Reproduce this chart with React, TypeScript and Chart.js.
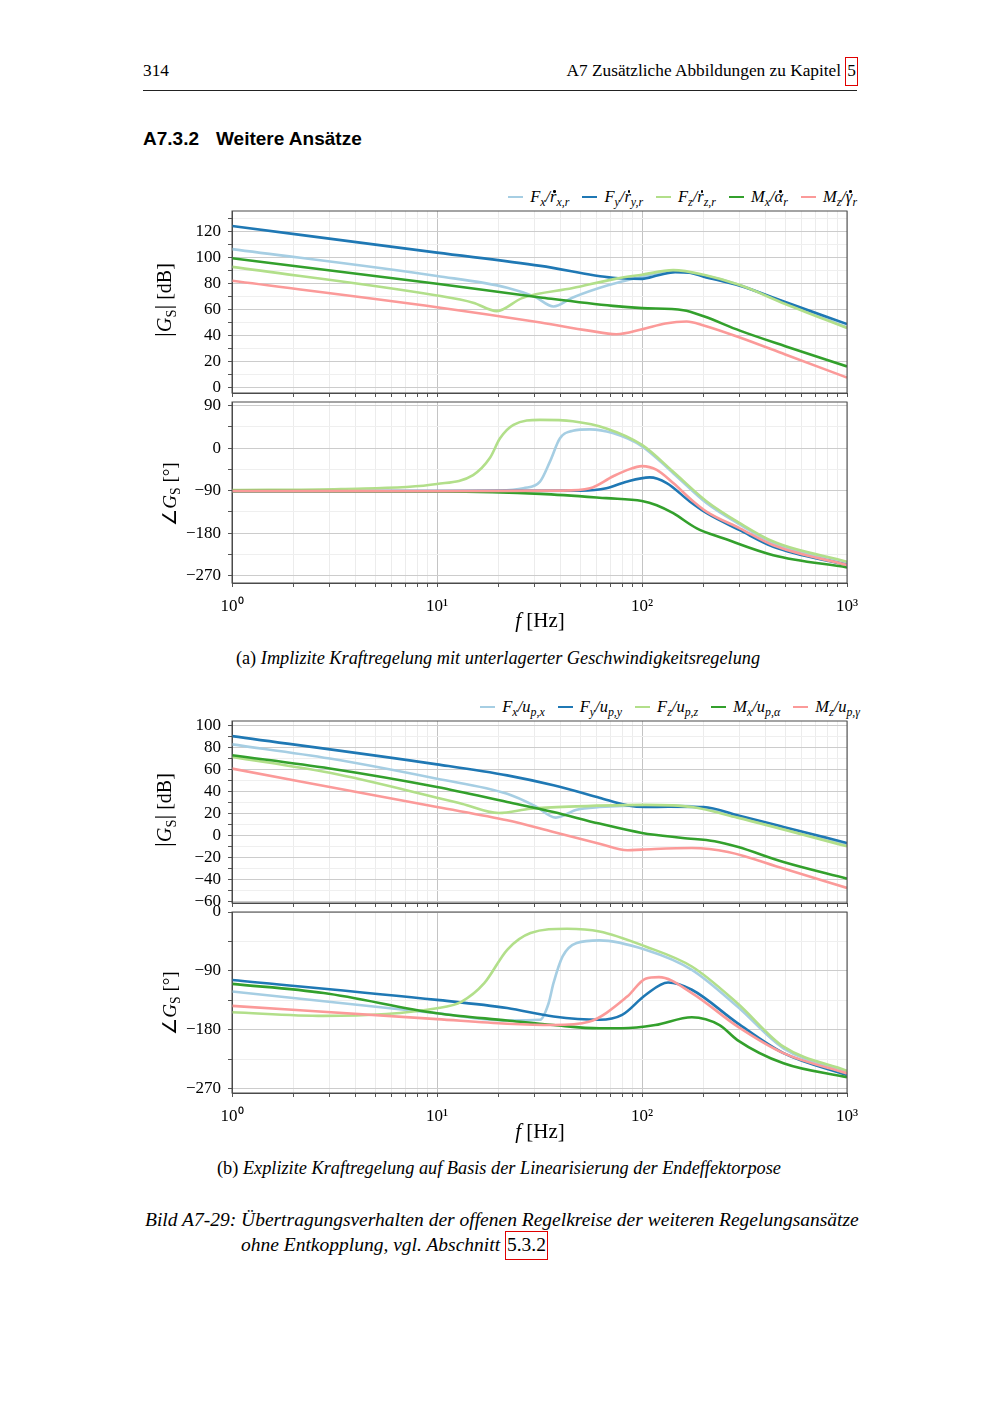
import React, { useEffect, useRef } from "react";
import { Chart, registerables } from "chart.js";

Chart.register(...registerables);

const FONT = "'Liberation Serif', 'Times New Roman', Times, serif";
const SANS = "'Liberation Sans', Arial, Helvetica, sans-serif";

const C_FX = "#a6cee3";
const C_FY = "#1f78b4";
const C_FZ = "#b2df8a";
const C_MX = "#33a02c";
const C_MZ = "#fb9a99";

// ---------- Figure (a): magnitude [dB] ----------
const A_MAG_FX_F = [1, 10, 22, 30, 37, 46, 67, 100, 142, 200, 300, 500, 1000];
const A_MAG_FX = [106.7, 86, 77, 70, 62.5, 69.5, 78.5, 85.5, 90, 86.5, 79, 65, 46.5];
const A_MAG_FY_F = [1, 10, 32, 72, 100, 120, 145, 170, 200, 300, 500, 1000];
const A_MAG_FY = [124.5, 104, 93.8, 84.6, 83.8, 86.5, 89, 88.5, 85.5, 78.5, 66, 49];
const A_MAG_FZ_F = [1, 10, 15, 19.6, 26, 46, 75, 100, 142, 200, 300, 500, 1000];
const A_MAG_FZ = [93, 71, 65.5, 59, 69, 76.7, 84, 87, 90.5, 87, 79, 64.5, 46];
const A_MAG_MX_F = [1, 10, 32, 72, 100, 159, 200, 300, 500, 1000];
const A_MAG_MX = [99.7, 80, 69.5, 63, 61.3, 59.7, 55, 44, 32, 16.4];
const A_MAG_MZ_F = [1, 10, 32, 55, 75, 100, 130, 165, 200, 300, 500, 1000];
const A_MAG_MZ = [82.3, 62, 50.2, 44, 41.2, 45, 49.5, 51, 48, 38.7, 25.6, 7.9];

// ---------- Figure (a): phase [deg] ----------
const A_PH_FX_F = [1, 10, 20, 26.4, 31.8, 35.6, 39.8, 46, 55.7, 72, 100, 142, 207, 300, 437, 1000];
const A_PH_FX = [-91, -91, -90, -85, -71, -28, 21, 37, 40, 32, 4, -53, -117, -162, -201, -244];
const A_PH_FY_F = [1, 10, 50, 67, 84, 109, 132, 171, 207, 300, 437, 1000];
const A_PH_FY = [-91, -91, -90, -85, -71, -62, -74, -113, -138, -174, -209, -248];
const A_PH_FZ_F = [1, 3.4, 10, 15, 18.1, 20.3, 23.6, 31.8, 46, 67, 100, 142, 207, 300, 437, 1000];
const A_PH_FZ = [-89, -86.5, -76, -57, -21, 21, 49.5, 60, 57, 42, 7, -50, -113, -159, -198, -241];
const A_PH_MX_F = [1, 10, 32, 67, 100, 118, 142, 185, 249, 437, 1000];
const A_PH_MX = [-91, -92, -97, -106, -112, -121, -138, -170, -191, -227, -253];
const A_PH_MZ_F = [1, 10, 40, 55.7, 72, 85, 100, 118, 142, 178, 207, 300, 437, 1000];
const A_PH_MZ = [-91, -91, -90, -85, -60, -46, -38, -46, -74, -113, -135, -170, -206, -248];

// ---------- Figure (b): magnitude [dB] ----------
const B_MAG_FX_F = [1, 3, 10, 22, 30, 38, 48, 62, 104, 175, 292, 1000];
const B_MAG_FX = [82.8, 70, 51.7, 38, 27, 16.4, 23.6, 26, 27.5, 26.6, 17, -8.7];
const B_MAG_FY_F = [1, 10, 22, 37, 62, 85, 104, 135, 200, 292, 490, 1000];
const B_MAG_FY = [90.3, 64.7, 54.7, 45.7, 34.5, 27.5, 26, 26.3, 26, 18.5, 8, -6.6];
const B_MAG_FZ_F = [1, 3, 10, 13.2, 20, 28.6, 48, 104, 175, 292, 1000];
const B_MAG_FZ = [71.5, 57, 34.5, 29, 20.6, 24.5, 26.6, 28, 26, 16.4, -9.6];
const B_MAG_MX_F = [1, 3, 10, 22, 37, 62, 100, 158, 226, 292, 490, 1000];
const B_MAG_MX = [73, 61, 44.2, 30.6, 21.5, 11, 2.5, -2, -5, -10, -23.8, -38.9];
const B_MAG_MZ_F = [1, 10, 22, 37, 62, 85, 100, 175, 263, 490, 1000];
const B_MAG_MZ = [60.8, 26, 14, 3.4, -7.2, -13.2, -12.6, -11.1, -14.7, -29.8, -47.3];

// ---------- Figure (b): phase [deg] ----------
const B_PH_FX_F = [1, 10, 22, 31.8, 35, 37, 41, 48, 62, 104, 175, 292, 490, 1000];
const B_PH_FX = [-121.7, -155, -166, -165, -140, -109, -68, -47.5, -43.5, -57.8, -88.5, -144.7, -208.6, -244.4];
const B_PH_FY_F = [1, 10, 22, 37, 62, 80, 104, 134, 175, 292, 490, 1000];
const B_PH_FY = [-104, -134.5, -147, -160, -165, -157.5, -127, -108, -119, -170, -216, -249.5];
const B_PH_FZ_F = [1, 2.8, 10, 13.2, 17, 22, 28.6, 43, 62, 104, 175, 292, 490, 1000];
const B_PH_FZ = [-153.4, -159, -147.3, -137, -109, -57.8, -32.2, -25.6, -29.7, -52.7, -83.4, -139.6, -206, -243];
const B_PH_MX_F = [1, 2.8, 10, 22, 37, 62, 80, 116, 175, 239, 292, 490, 1000];
const B_PH_MX = [-110, -124, -155, -166, -173, -178, -178, -173, -161, -173, -196, -231.6, -253];
const B_PH_MZ_F = [1, 10, 22, 37, 55, 85, 104, 121, 175, 292, 490, 1000];
const B_PH_MZ = [-143.7, -164, -171, -173, -168, -129, -102, -99.7, -124, -175, -216, -247];

// ---------- Ticks ----------
const LOG_TICKS = [1, 2, 3, 4, 5, 6, 7, 8, 9, 10, 20, 30, 40, 50, 60, 70, 80, 90, 100, 200, 300, 400, 500, 600, 700, 800, 900, 1000];
const LOG_LABELS: Record<number, string> = { 1: "10\u2070", 10: "10\u00b9", 100: "10\u00b2", 1000: "10\u00b3" };
const A_MAG_TICKS = [0, 10, 20, 30, 40, 50, 60, 70, 80, 90, 100, 110, 120, 130];
const A_PH_TICKS = [-270, -225, -180, -135, -90, -45, 0, 45, 90];
const B_MAG_TICKS = [-60, -50, -40, -30, -20, -10, 0, 10, 20, 30, 40, 50, 60, 70, 80, 90, 100];
const B_PH_TICKS = [-270, -225, -180, -135, -90, -45, 0];

type LegendItem = { c: string; n: string; ns: string; d: string; dot: boolean; ds: string };
const LEGEND_A: LegendItem[] = [
  { c: C_FX, n: "F", ns: "x", d: "r", dot: true, ds: "x,r" },
  { c: C_FY, n: "F", ns: "y", d: "r", dot: true, ds: "y,r" },
  { c: C_FZ, n: "F", ns: "z", d: "r", dot: true, ds: "z,r" },
  { c: C_MX, n: "M", ns: "x", d: "\u03b1", dot: true, ds: "r" },
  { c: C_MZ, n: "M", ns: "z", d: "\u03b3", dot: true, ds: "r" },
];
const LEGEND_B: LegendItem[] = [
  { c: C_FX, n: "F", ns: "x", d: "u", dot: false, ds: "p,x" },
  { c: C_FY, n: "F", ns: "y", d: "u", dot: false, ds: "p,y" },
  { c: C_FZ, n: "F", ns: "z", d: "u", dot: false, ds: "p,z" },
  { c: C_MX, n: "M", ns: "x", d: "u", dot: false, ds: "p,\u03b1" },
  { c: C_MZ, n: "M", ns: "z", d: "u", dot: false, ds: "p,\u03b3" },
];

type Series = { f: number[]; v: number[]; color: string };

const mk = (f: number[], v: number[], color: string): Series => ({ f, v, color });

const SER_A_MAG = [
  mk(A_MAG_FX_F, A_MAG_FX, C_FX), mk(A_MAG_FY_F, A_MAG_FY, C_FY), mk(A_MAG_FZ_F, A_MAG_FZ, C_FZ),
  mk(A_MAG_MX_F, A_MAG_MX, C_MX), mk(A_MAG_MZ_F, A_MAG_MZ, C_MZ),
];
const SER_A_PH = [
  mk(A_PH_FX_F, A_PH_FX, C_FX), mk(A_PH_FY_F, A_PH_FY, C_FY), mk(A_PH_FZ_F, A_PH_FZ, C_FZ),
  mk(A_PH_MX_F, A_PH_MX, C_MX), mk(A_PH_MZ_F, A_PH_MZ, C_MZ),
];
const SER_B_MAG = [
  mk(B_MAG_FX_F, B_MAG_FX, C_FX), mk(B_MAG_FY_F, B_MAG_FY, C_FY), mk(B_MAG_FZ_F, B_MAG_FZ, C_FZ),
  mk(B_MAG_MX_F, B_MAG_MX, C_MX), mk(B_MAG_MZ_F, B_MAG_MZ, C_MZ),
];
const SER_B_PH = [
  mk(B_PH_FX_F, B_PH_FX, C_FX), mk(B_PH_FY_F, B_PH_FY, C_FY), mk(B_PH_FZ_F, B_PH_FZ, C_FZ),
  mk(B_PH_MX_F, B_PH_MX, C_MX), mk(B_PH_MZ_F, B_PH_MZ, C_MZ),
];

const framePlugin = {
  id: "frame",
  afterDraw(chart: any) {
    const { ctx, chartArea: a } = chart;
    ctx.save();
    ctx.strokeStyle = "#4a4a4a";
    ctx.lineWidth = 1;
    ctx.strokeRect(a.left, a.top, a.right - a.left, a.bottom - a.top);
    ctx.restore();
  },
};

const fmtNum = (v: number) => (v < 0 ? "\u2212" + Math.abs(v) : String(v));

type PlotProps = {
  left: number; top: number; width: number; height: number;
  series: Series[]; yMin: number; yMax: number; yTicks: number[]; labelStep: number; showX: boolean;
};

function Plot(p: PlotProps) {
  const ref = useRef<HTMLCanvasElement>(null);
  const yAxisW = 80;
  const padTop = 12;
  const padRight = 20;
  const xAxisH = p.showX ? 40 : 14;
  const cw = yAxisW + p.width + padRight;
  const ch = padTop + p.height + xAxisH;

  useEffect(() => {
    if (!ref.current) return;
    const datasets = [...p.series].reverse().map((s) => ({
      data: s.f.map((f, i) => ({ x: f, y: s.v[i] })),
      borderColor: s.color,
      backgroundColor: s.color,
      borderWidth: 2.6,
      pointRadius: 0,
      fill: false,
      cubicInterpolationMode: "monotone" as const,
    }));
    const chart = new Chart(ref.current, {
      type: "line",
      data: { datasets },
      options: {
        animation: false,
        responsive: false,
        maintainAspectRatio: false,
        layout: { padding: { top: padTop, right: padRight, left: 0, bottom: 0 } },
        plugins: { legend: { display: false }, tooltip: { enabled: false } },
        scales: {
          x: {
            type: "logarithmic",
            min: 1,
            max: 1000,
            afterBuildTicks: (s: any) => {
              s.ticks = LOG_TICKS.map((v) => ({ value: v, major: v in LOG_LABELS }));
            },
            afterFit: (s: any) => {
              s.height = xAxisH;
              s.paddingLeft = 0;
              s.paddingRight = 0;
              s.paddingTop = 0;
              s.paddingBottom = 0;
            },
            ticks: {
              display: p.showX,
              autoSkip: false,
              maxRotation: 0,
              minRotation: 0,
              padding: 9,
              color: "#000",
              font: { family: FONT, size: 17 },
              callback: (v: any) => LOG_LABELS[Number(v)] ?? "",
            },
            grid: {
              color: (ctx: any) => (ctx.tick && ctx.tick.value in LOG_LABELS ? "#c4c4c4" : "#ececec"),
              tickColor: "#555",
              tickLength: 4,
              lineWidth: 1,
            },
            border: { color: "#4a4a4a", width: 1 },
          },
          y: {
            type: "linear",
            min: p.yMin,
            max: p.yMax,
            afterBuildTicks: (s: any) => {
              s.ticks = p.yTicks.map((v) => ({ value: v }));
            },
            afterFit: (s: any) => {
              s.width = yAxisW;
              s.paddingTop = 0;
              s.paddingBottom = 0;
              s.paddingLeft = 0;
              s.paddingRight = 0;
            },
            ticks: {
              autoSkip: false,
              padding: 7,
              color: "#000",
              font: { family: FONT, size: 17 },
              callback: (v: any) => (Number(v) % p.labelStep === 0 ? fmtNum(Number(v)) : ""),
            },
            grid: {
              color: (ctx: any) => (ctx.tick && ctx.tick.value % p.labelStep === 0 ? "#cccccc" : "#efefef"),
              tickColor: "#555",
              tickLength: 4,
              lineWidth: 1,
            },
            border: { color: "#4a4a4a", width: 1 },
          },
        },
      },
      plugins: [framePlugin],
    } as any);
    return () => chart.destroy();
  }, []);

  return (
    <canvas
      ref={ref}
      width={cw}
      height={ch}
      style={{ position: "absolute", left: p.left - yAxisW, top: p.top - padTop, width: cw, height: ch }}
    />
  );
}

const subStyle: React.CSSProperties = { fontSize: "0.72em", position: "relative", top: "0.32em", lineHeight: 0 };

function Dotted({ ch }: { ch: string }) {
  return (
    <span style={{ position: "relative", display: "inline-block" }}>
      {ch}
      <span
        style={{
          position: "absolute", left: "52%", top: "0.18em", width: 2.6, height: 2.6,
          borderRadius: "50%", background: "#000",
        }}
      />
    </span>
  );
}

function Legend({ cy, right, items }: { cy: number; right: number; items: LegendItem[] }) {
  return (
    <div
      style={{
        position: "absolute", top: cy - 11, right, height: 22, display: "flex", alignItems: "center",
        gap: 13, fontFamily: FONT, fontSize: 16.5, fontStyle: "italic", whiteSpace: "nowrap",
      }}
    >
      {items.map((it, i) => (
        <span key={i} style={{ display: "flex", alignItems: "center" }}>
          <span style={{ display: "inline-block", width: 15, height: 2.6, background: it.c, marginRight: 7 }} />
          <span>
            {it.n}<span style={subStyle}>{it.ns}</span>/{it.dot ? <Dotted ch={it.d} /> : it.d}
            <span style={subStyle}>{it.ds}</span>
          </span>
        </span>
      ))}
    </div>
  );
}

function YTitle({ cx, cy, kind }: { cx: number; cy: number; kind: "mag" | "ph" }) {
  return (
    <div
      style={{
        position: "absolute", left: cx, top: cy, transform: "translate(-50%, -50%) rotate(-90deg)",
        fontFamily: FONT, fontSize: kind === "mag" ? 20 : 19, whiteSpace: "nowrap", lineHeight: "24px",
      }}
    >
      {kind === "mag" ? (
        <span>
          <span style={{ fontSize: "1.2em" }}>|</span><i>G</i><span style={subStyle}>S</span>
          <span style={{ fontSize: "1.2em" }}>|</span> [dB]
        </span>
      ) : (
        <span>
          {"\u2220"}<i>G</i><span style={subStyle}>S</span> [°]
        </span>
      )}
    </div>
  );
}

function XTitle({ cx, cy }: { cx: number; cy: number }) {
  return (
    <div
      style={{
        position: "absolute", left: cx, top: cy, transform: "translate(-50%, -50%)",
        fontFamily: FONT, fontSize: 21, whiteSpace: "nowrap", lineHeight: "24px",
      }}
    >
      <i>f</i> [Hz]
    </div>
  );
}

export default function App() {
  const L = 232;
  const W = 615;
  return (
    <div
      style={{
        position: "absolute", left: 0, top: 0, width: 1000, height: 1414, background: "#fff",
        fontFamily: FONT, color: "#000", overflow: "hidden",
      }}
    >
      {/* page header */}
      <div style={{ position: "absolute", left: 143, top: 61, fontSize: 17.3, lineHeight: "20px" }}>314</div>
      <div style={{ position: "absolute", right: 142, top: 61, fontSize: 17.3, lineHeight: "20px", whiteSpace: "nowrap" }}>
        A7 Zusätzliche Abbildungen zu Kapitel{" "}
        <span style={{ border: "1.5px solid #e00000", padding: "3px 1px 5px 1px" }}>5</span>
      </div>
      <div style={{ position: "absolute", left: 143, top: 90, width: 714, height: 1, background: "#222" }} />

      {/* section heading */}
      <div style={{ position: "absolute", left: 143, top: 128, fontFamily: SANS, fontWeight: "bold", fontSize: 19, lineHeight: "22px", whiteSpace: "nowrap" }}>
        A7.3.2<span style={{ display: "inline-block", width: 17 }} />Weitere Ansätze
      </div>

      {/* Figure (a) */}
      <Legend cy={197} right={143} items={LEGEND_A} />
      <Plot left={L} top={211} width={W} height={182} series={SER_A_MAG} yMin={-4} yMax={136} yTicks={A_MAG_TICKS} labelStep={20} showX={false} />
      <Plot left={L} top={402} width={W} height={181} series={SER_A_PH} yMin={-286} yMax={98} yTicks={A_PH_TICKS} labelStep={90} showX={true} />
      <YTitle cx={163} cy={300} kind="mag" />
      <YTitle cx={170} cy={494} kind="ph" />
      <XTitle cx={540} cy={620} />
      <div style={{ position: "absolute", left: 498, top: 658, transform: "translate(-50%, -50%)", fontSize: 18.3, whiteSpace: "nowrap", lineHeight: "22px" }}>
        (a) <i>Implizite Kraftregelung mit unterlagerter Geschwindigkeitsregelung</i>
      </div>

      {/* Figure (b) */}
      <Legend cy={707} right={140} items={LEGEND_B} />
      <Plot left={L} top={721} width={W} height={182} series={SER_B_MAG} yMin={-61} yMax={104} yTicks={B_MAG_TICKS} labelStep={20} showX={false} />
      <Plot left={L} top={912} width={W} height={181} series={SER_B_PH} yMin={-277} yMax={0} yTicks={B_PH_TICKS} labelStep={90} showX={true} />
      <YTitle cx={163} cy={810} kind="mag" />
      <YTitle cx={170} cy={1003} kind="ph" />
      <XTitle cx={540} cy={1131} />
      <div style={{ position: "absolute", left: 499, top: 1168, transform: "translate(-50%, -50%)", fontSize: 18.3, whiteSpace: "nowrap", lineHeight: "22px" }}>
        (b) <i>Explizite Kraftregelung auf Basis der Linearisierung der Endeffektorpose</i>
      </div>

      {/* Figure caption */}
      <div style={{ position: "absolute", left: 145, top: 1208, fontSize: 19.5, fontStyle: "italic", whiteSpace: "nowrap", lineHeight: "24px" }}>
        Bild A7-29: Übertragungsverhalten der offenen Regelkreise der weiteren Regelungsansätze
      </div>
      <div style={{ position: "absolute", left: 241, top: 1233, fontSize: 19.5, fontStyle: "italic", whiteSpace: "nowrap", lineHeight: "24px" }}>
        ohne Entkopplung, vgl. Abschnitt{" "}
        <span style={{ border: "1.5px solid #e00000", padding: "2px 1px 4px 1px", fontStyle: "normal" }}>5.3.2</span>
      </div>
    </div>
  );
}
